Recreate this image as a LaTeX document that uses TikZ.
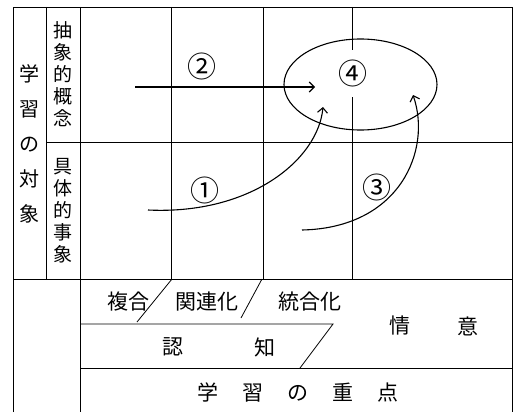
\documentclass[tikz,border=0pt]{standalone}
\usepackage{fontspec}
\newfontfamily\jp{Noto Sans CJK JP}
\usetikzlibrary{arrows.meta}
\begin{document}
\begin{tikzpicture}[x=1pt,y=-1pt,
  grid/.style={line width=0.8pt},
  flow/.style={line width=1.1pt,-{Straight Barb[length=5pt,width=10pt]}},
  lbl/.style={font=\jp\fontsize{21}{21}\selectfont, inner sep=0pt},
  vlbl/.style={font=\jp\fontsize{19}{22}\selectfont, align=center, inner sep=0pt},
  ttl/.style={font=\jp\fontsize{20}{35}\selectfont, align=center, inner sep=0pt},
  num/.style={font=\jp\fontsize{29}{29}\selectfont, inner sep=0pt}]
\useasboundingbox (0,0) rectangle (519,412);
% frame and grid
\draw[grid] (13,412) -- (13,7) -- (512,7) -- (512,412);
\draw[grid] (46,7) -- (46,279);
\draw[grid] (80,7) -- (80,412);
\draw[grid] (171,7) -- (171,279);
\draw[grid] (263,7) -- (263,279);
\draw[grid] (352,7) -- (352,50);
\draw[grid] (352,97) -- (352,279);
\draw[grid] (46,142) -- (512,142);
\draw[grid] (13,279) -- (512,279);
% bottom section
\draw[grid] (80,324) -- (333,324) -- (300,368);
\draw[grid] (80,368) -- (512,368);
\draw[grid] (172,279) -- (137,322);
\draw[grid] (262,279) -- (241,318);
% left labels
\node[ttl] (obj) at (29,143.5) {学\\習\\の\\対\\象};
\node[vlbl] (abs) at (63,74.5) {抽\\象\\的\\概\\念};
\node[vlbl] (con) at (63,211) {具\\体\\的\\事\\象};
% bottom labels
\node[lbl] (fukugo) at (128,302) {複合};
\node[lbl] (kanren) at (207,302) {関連化};
\node[lbl] (togo) at (310,302) {統合化};
\node[lbl] (jo) at (400,326) {情};
\node[lbl] (i) at (468,326) {意};
\node[lbl] (nin) at (173,347) {認};
\node[lbl] (chi) at (265,347) {知};
\node[lbl] (juten) at (298,392) {学\hspace{24pt}習\hspace{24pt}の\hspace{24pt}重\hspace{24pt}点};
% goal ellipse
\draw[line width=1.1pt] (360.5,84.5) ellipse [x radius=76.5, y radius=45.5];
\node[num] (n4) at (353,73) {④};
\node[num] (n2) at (202,66) {②};
\node[num] (n1) at (205,190) {①};
\node[num] (n3) at (377,187) {③};
% arrows
\coordinate (s2) at (135,87);
\coordinate (t2) at (315,87);
\coordinate (s1) at (148,210);
\coordinate (t1) at (323,107);
\coordinate (s3) at (302,230);
\coordinate (t3) at (413,95);
\draw[flow] (s2) -- (t2);
\draw[flow] (s1) .. controls (250,215) and (318,160) .. (t1);
\draw[flow] (s3) .. controls (400,228) and (432,150) .. (t3);
\end{tikzpicture}
\end{document}
